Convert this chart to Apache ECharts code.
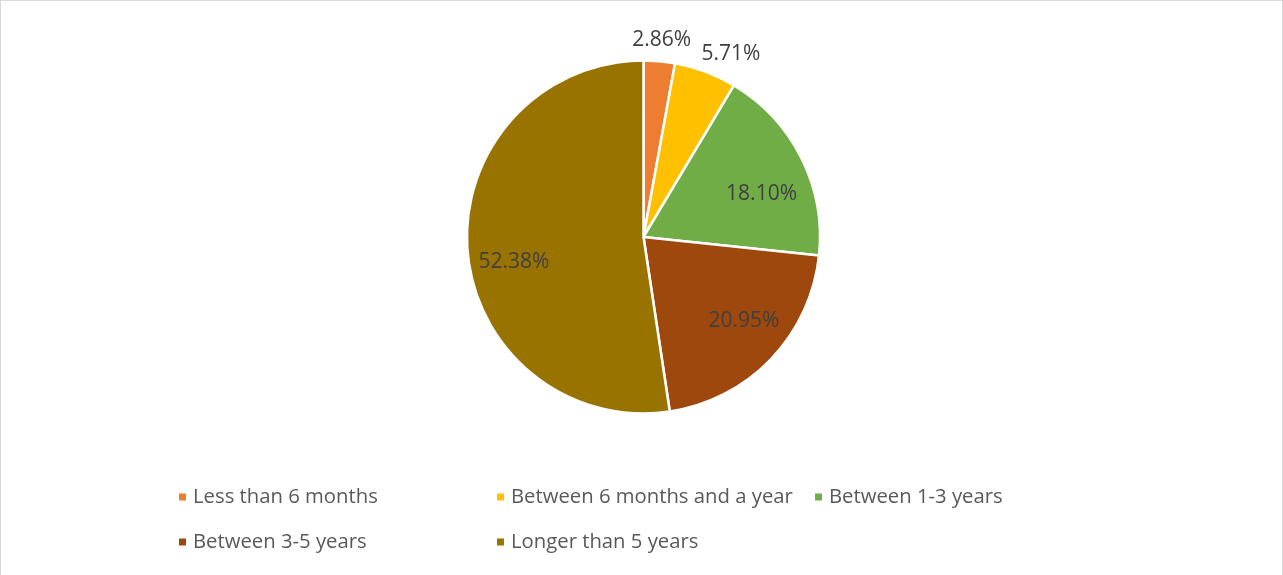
<!DOCTYPE html>
<html>
<head>
<meta charset="utf-8">
<script src="https://cdn.jsdelivr.net/npm/echarts@6/dist/echarts.min.js"></script>
<style>
  html, body { margin: 0; padding: 0; background: #fff; }
  #chart {
    width: 1283px; height: 575px; box-sizing: border-box;
    border-left: 1px solid #d9d9d9; border-top: 1px solid #d9d9d9; border-right: 1px solid #d9d9d9;
  }
</style>
</head>
<body>
<div id="chart"></div>
<script>
// Time spent, share of respondents (%)
const categories = [
  'Less than 6 months',
  'Between 6 months and a year',
  'Between 1-3 years',
  'Between 3-5 years',
  'Longer than 5 years'
];
const shares = [2.86, 5.71, 18.10, 20.95, 52.38];
const colors = ['#ED7D31', '#FFC000', '#70AD47', '#9E480E', '#997300'];

// Small slices get their label outside the pie, larger ones inside
const outsideLabel = [true, true, false, false, false];
const labelNudge = [[0, 5], [16, 7], [0, 16], [5, -7], [2, 15]];

const FONT = '"Open Sans", sans-serif';
const CENTER = [642.5, 236];
const R = 176.5;

const chart = echarts.init(document.getElementById('chart'), null, { renderer: 'canvas' });

const fmt = p => p.value.toFixed(2) + '%';

const pieData = categories.map((name, i) => ({
  name, value: shares[i], itemStyle: { color: colors[i] }
}));

// Transparent rings that only carry the value labels
function labelRing(radius, wantOutside) {
  return {
    type: 'pie',
    silent: true,
    center: CENTER,
    radius: radius,
    startAngle: 90,
    labelLine: { show: false },
    emphasis: { disabled: true },
    itemStyle: { color: 'rgba(0,0,0,0)', borderWidth: 0 },
    data: categories.map((name, i) => ({
      name, value: shares[i],
      itemStyle: { color: 'rgba(0,0,0,0)' },
      label: {
        show: outsideLabel[i] === wantOutside,
        position: 'inside',
        formatter: fmt,
        color: '#404040',
        fontFamily: FONT,
        fontSize: 21,
        offset: labelNudge[i]
      }
    }))
  };
}

const colX = [176, 494, 812];
const rowY = [486, 531];
const legends = categories.map((name, i) => ({
  data: [name],
  left: colX[i % 3],
  top: rowY[Math.floor(i / 3)],
  padding: 0,
  icon: 'rect',
  itemWidth: 9,
  itemHeight: 9,
  selectedMode: false,
  textStyle: {
    color: '#595959', fontFamily: FONT, fontSize: 20.3, lineHeight: 20,
    padding: [0, 0, 0, 1]
  }
}));

chart.setOption({
  animation: false,
  backgroundColor: '#ffffff',
  legend: legends,
  series: [
    {
      type: 'pie',
      center: CENTER,
      radius: R,
      startAngle: 90,
      clockwise: true,
      label: { show: false },
      labelLine: { show: false },
      emphasis: { scale: false },
      itemStyle: { borderColor: '#ffffff', borderWidth: 2.5 },
      data: pieData
    },
    labelRing([0, 258], false),
    labelRing([185, 215], true)
  ]
});
</script>
</body>
</html>
